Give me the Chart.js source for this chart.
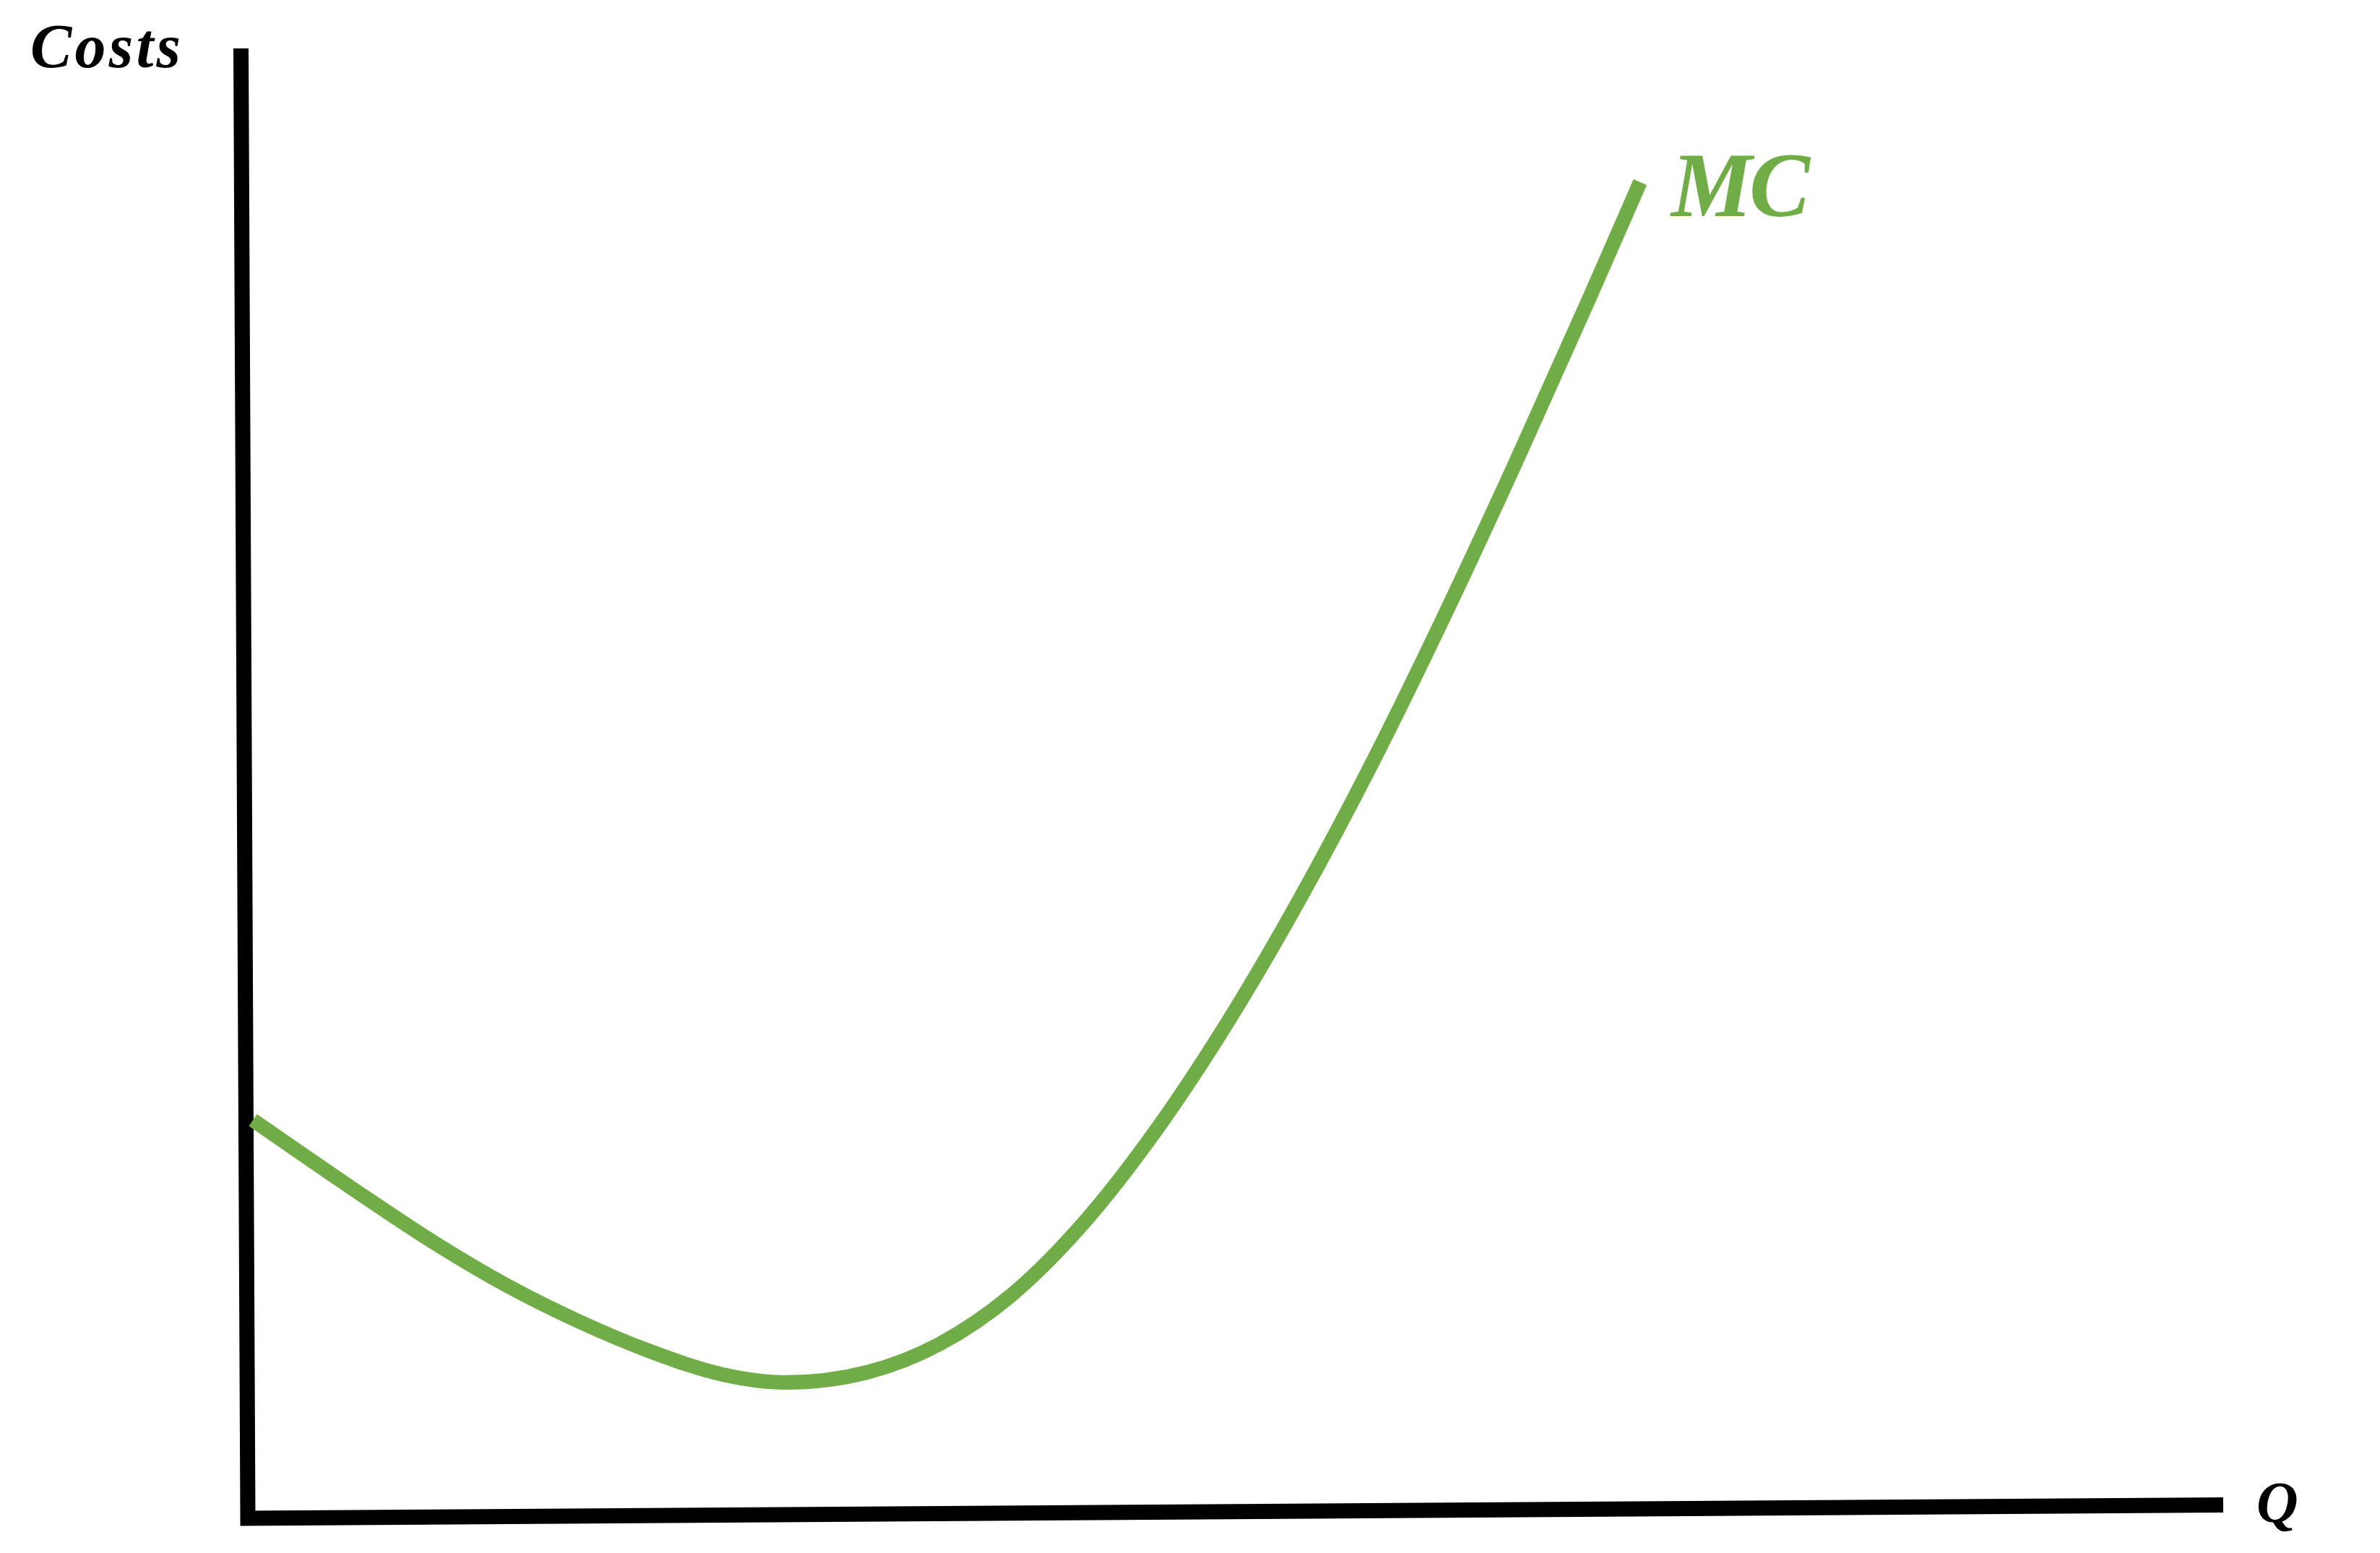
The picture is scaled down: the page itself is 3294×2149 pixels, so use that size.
<!DOCTYPE html>
<html>
<head>
<meta charset="utf-8">
<title>Marginal Cost</title>
<script src="https://cdn.jsdelivr.net/npm/chart.js@4"></script>
<style>
  html, body { margin: 0; padding: 0; background: #ffffff; }
  #wrap { width: 3294px; height: 2149px; position: relative; }
  canvas { display: block; }
</style>
</head>
<body>
<div id="wrap"><canvas id="c" width="3294" height="2149"></canvas></div>
<script>
// ---- data (Q = quantity, units; cost = cost units) ----
const mcQ    = [0.7, 15.7, 25.7, 35.7, 45.7, 55.7, 65.7, 74.4, 85.7, 95.7, 105.7, 115.7, 125.7, 135.7, 145.7, 155.7, 165.7, 175.7, 185.7, 192.7];
const mcCost = [55.1, 44.8, 38.2, 32.3, 27.3, 23.1, 19.9, 18.8, 20.2, 24.1, 30.9, 40.9, 53.7, 68.8, 85.9, 104.7, 125.1, 146.6, 168.9, 184.9];

// hand-drawn axes (slightly tilted in the original)
const axisQ    = [-0.95, 0, 273.4];
const axisCost = [203.4, 0, 1.85];

const seriesName = "MC";
const yAxisTitle = "Costs";
const xAxisTitle = "Q";

// ---- build point lists ----
const mcPoints = mcQ.map((q, i) => ({ x: q, y: mcCost[i] }));
const axisPoints = axisQ.map((q, i) => ({ x: q, y: axisCost[i] }));

// ---- label drawing plugin ----
const labelPlugin = {
  id: 'labels',
  afterDatasetsDraw(chart) {
    const ctx = chart.ctx;
    const items = [
      { text: yAxisTitle, x: 42,   y: 93,   size: 86,  width: 208, color: '#000000' },
      { text: seriesName, x: 2313, y: 299,  size: 126, width: 192, color: '#70AD47' },
      { text: xAxisTitle, x: 3123, y: 2106, size: 80,  width: 51,  color: '#000000' }
    ];
    ctx.save();
    ctx.textBaseline = 'alphabetic';
    ctx.textAlign = 'left';
    items.forEach(it => {
      ctx.font = 'italic bold ' + it.size + 'px "Liberation Serif", "DejaVu Serif", serif';
      ctx.letterSpacing = '0px';
      const w = ctx.measureText(it.text).width;
      const n = it.text.length;
      if (n > 1) {
        const sp = (it.width - w) / (n - 1);
        ctx.letterSpacing = sp.toFixed(2) + 'px';
      }
      ctx.fillStyle = it.color;
      ctx.fillText(it.text, it.x, it.y);
    });
    ctx.restore();
  }
};

const bgPlugin = {
  id: 'bg',
  beforeDraw(chart) {
    const ctx = chart.ctx;
    ctx.save();
    ctx.fillStyle = '#ffffff';
    ctx.fillRect(0, 0, chart.width, chart.height);
    ctx.restore();
  }
};

new Chart(document.getElementById('c'), {
  type: 'line',
  data: {
    datasets: [
      {
        label: seriesName,
        data: mcPoints,
        borderColor: '#70AD47',
        borderWidth: 20,
        borderCapStyle: 'butt',
        borderJoinStyle: 'round',
        cubicInterpolationMode: 'monotone',
        pointRadius: 0,
        fill: false,
        order: 1
      },
      {
        label: 'axes',
        data: axisPoints,
        borderColor: '#000000',
        borderWidth: 21,
        borderCapStyle: 'butt',
        borderJoinStyle: 'miter',
        tension: 0,
        pointRadius: 0,
        fill: false,
        order: 2
      }
    ]
  },
  options: {
    responsive: false,
    devicePixelRatio: 1,
    animation: false,
    layout: { padding: 0 },
    plugins: {
      legend: { display: false },
      tooltip: { enabled: false },
      title: { display: false }
    },
    scales: {
      x: { type: 'linear', display: false, min: -34.3, max: 295.1 },
      y: { type: 'linear', display: false, min: -4.8, max: 210.1 }
    }
  },
  plugins: [bgPlugin, labelPlugin]
});
</script>
</body>
</html>
